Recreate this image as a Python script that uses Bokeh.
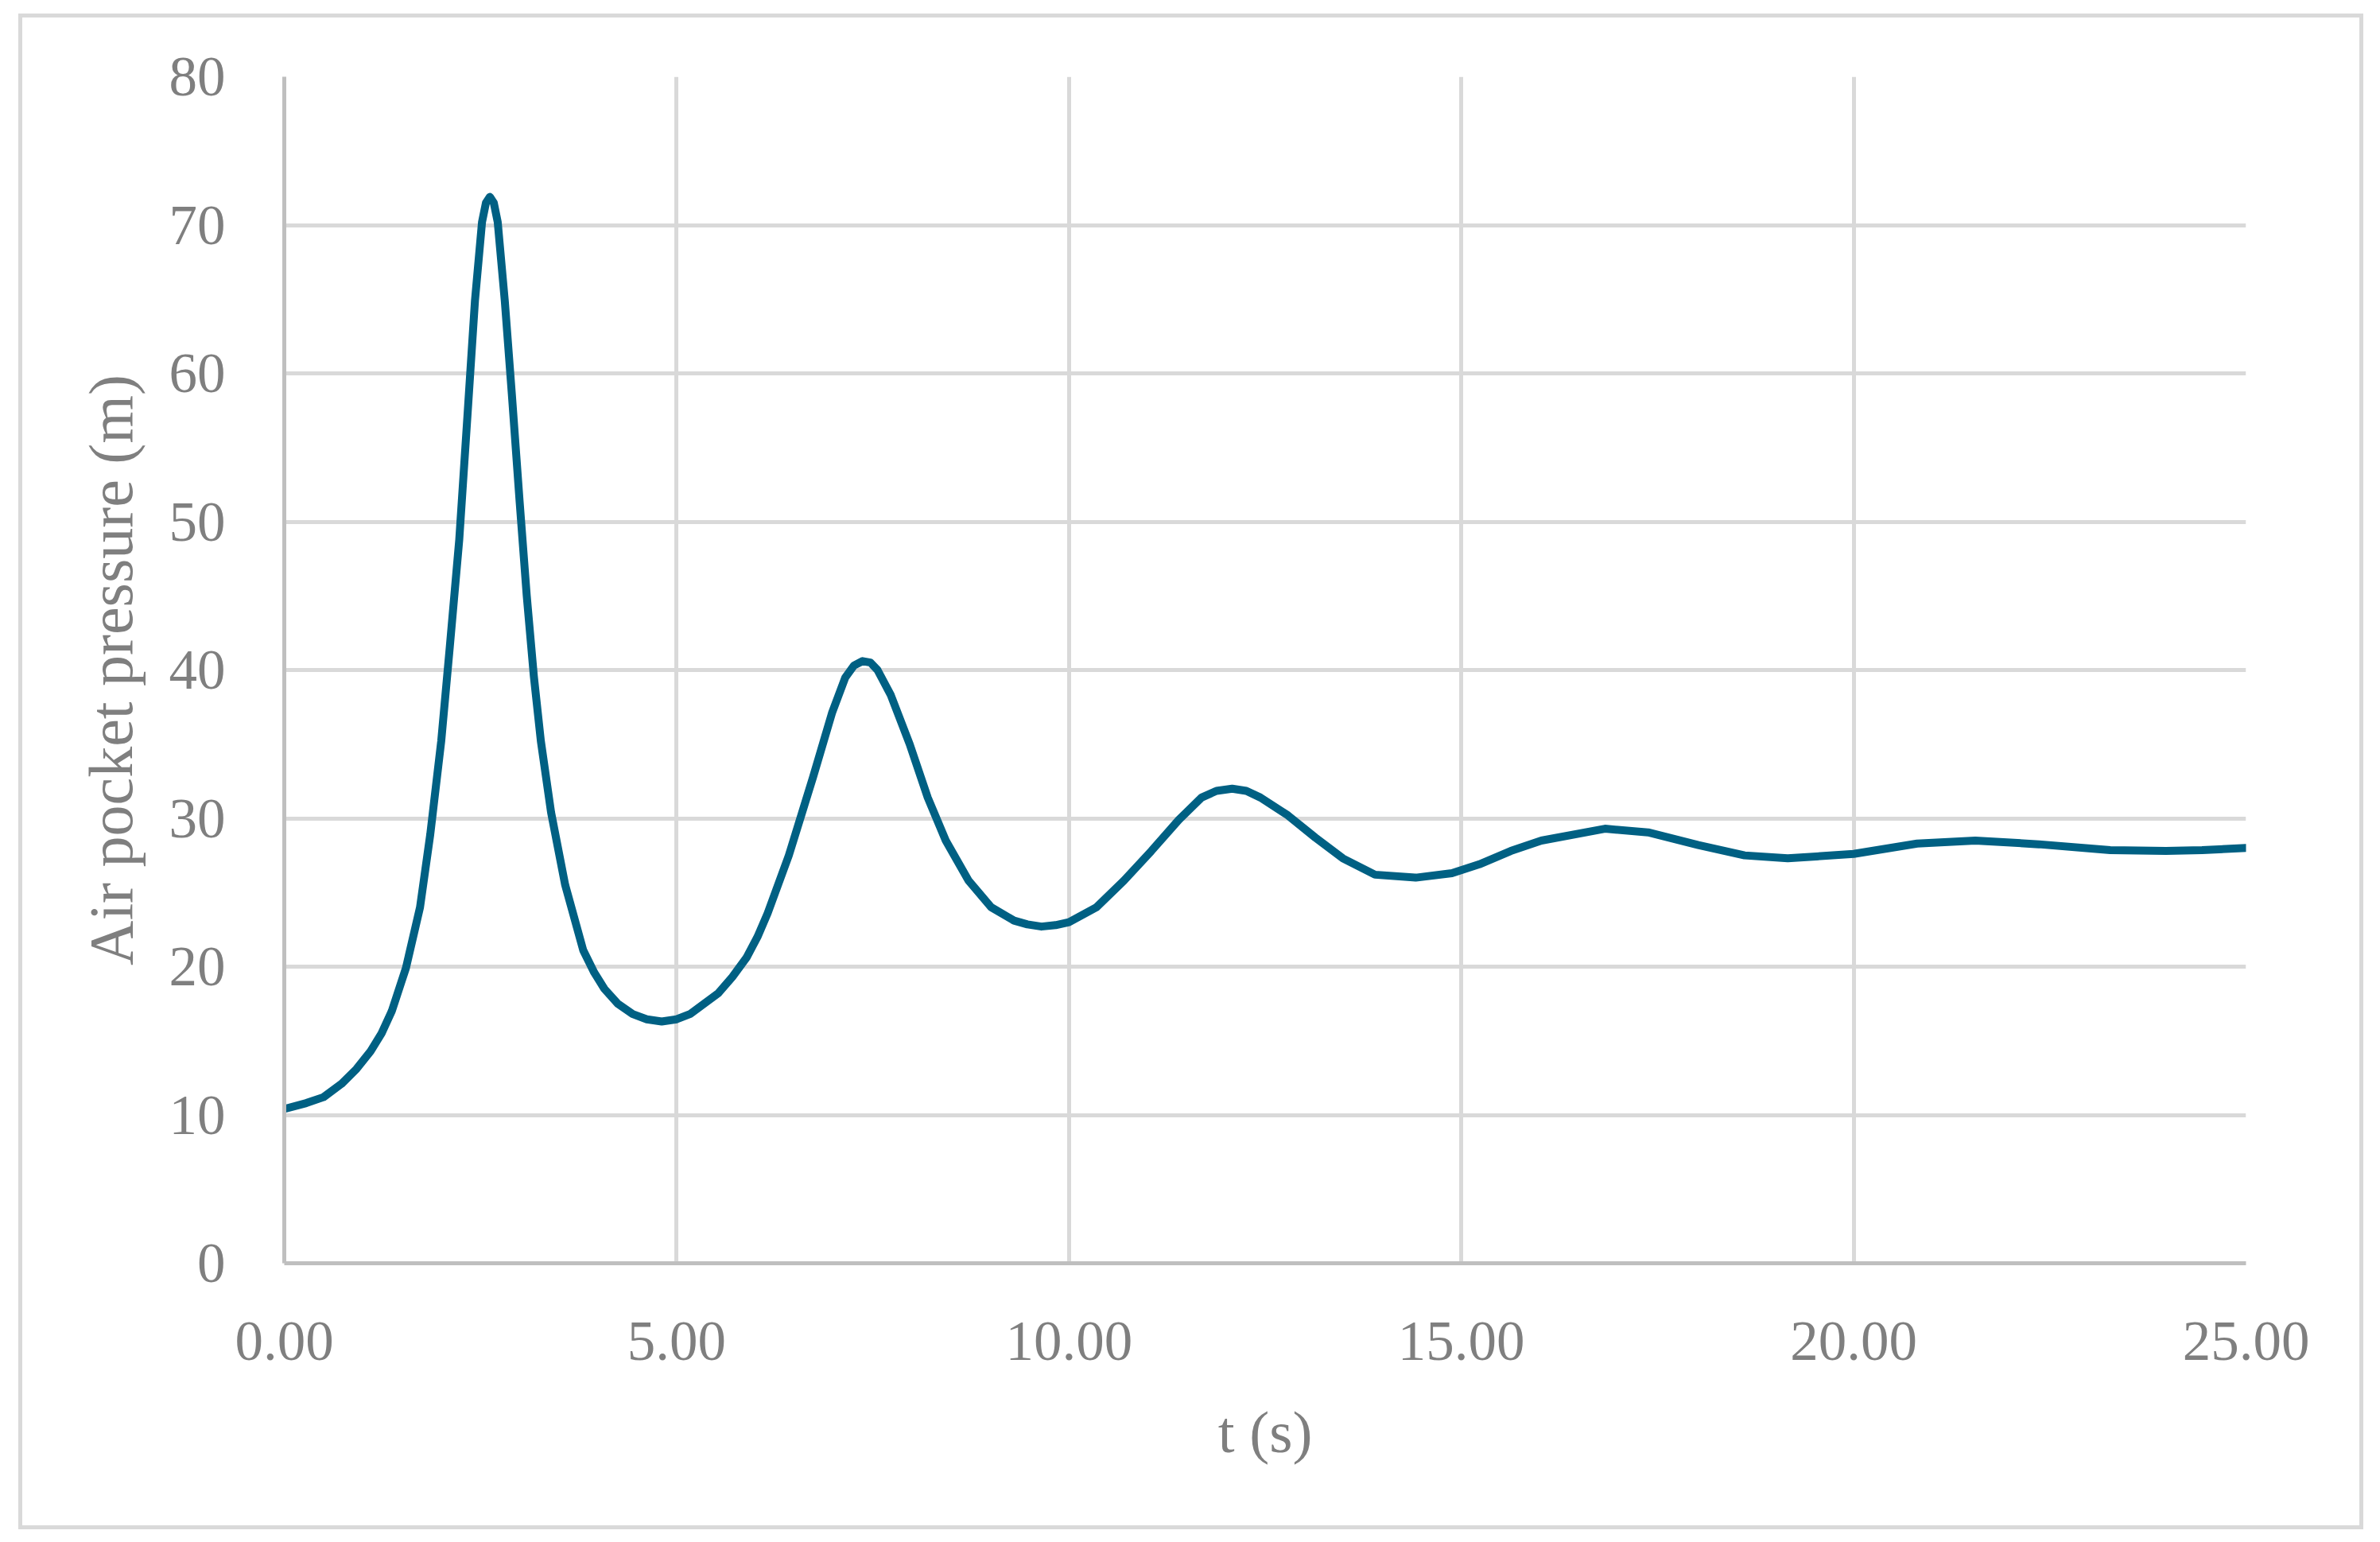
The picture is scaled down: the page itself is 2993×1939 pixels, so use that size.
from bokeh.plotting import figure
from bokeh.models import Range1d, FixedTicker, PrintfTickFormatter
from bokeh.embed import file_html
from bokeh.resources import INLINE

# ---- data ----
t_s = [0.00, 0.28, 0.50, 0.73, 0.92, 1.10, 1.24, 1.37, 1.55, 1.73, 1.86, 2.00, 2.11, 2.23, 2.34,
       2.43, 2.52, 2.57, 2.62, 2.67, 2.72, 2.81, 2.90, 3.00, 3.09, 3.18, 3.27, 3.40, 3.58,
       3.81, 3.95, 4.08, 4.25, 4.44, 4.62, 4.81, 5.00, 5.17, 5.53, 5.71, 5.89, 6.03, 6.16,
       6.43, 6.74, 6.98, 7.15, 7.26, 7.37, 7.47, 7.56, 7.73, 7.97, 8.20, 8.43, 8.72, 9.01,
       9.30, 9.47, 9.65, 9.83, 10.00, 10.35, 10.70, 11.05, 11.40, 11.69, 11.88, 12.08, 12.26,
       12.44, 12.79, 13.14, 13.49, 13.90, 14.42, 14.88, 15.23, 15.63, 16.02, 16.83, 17.38,
       18.02, 18.61, 19.16, 20.00, 20.81, 21.55, 22.36, 23.27, 23.98, 24.44, 25.00]
pressure_m = [10.4, 10.8, 11.2, 12.1, 13.1, 14.3, 15.5, 17.0, 19.9, 24.0, 28.9, 35.2, 41.6, 48.8,
              57.6, 64.9, 70.2, 71.5, 71.9, 71.5, 70.2, 64.9, 58.6, 51.3, 45.0, 39.6, 35.2,
              30.4, 25.5, 21.1, 19.6, 18.5, 17.5, 16.8, 16.45, 16.3, 16.45, 16.8, 18.2, 19.3,
              20.6, 22.0, 23.6, 27.5, 32.8, 37.1, 39.5, 40.3, 40.6, 40.5, 40.0, 38.3, 35.0,
              31.4, 28.5, 25.8, 24.0, 23.1, 22.85, 22.7, 22.8, 23.0, 24.0, 25.8, 27.8, 29.9,
              31.4, 31.85, 32.0, 31.85, 31.4, 30.2, 28.7, 27.3, 26.2, 26.0, 26.3, 26.9, 27.8,
              28.5, 29.3, 29.05, 28.2, 27.5, 27.3, 27.6, 28.3, 28.5, 28.25, 27.85, 27.8,
              27.85, 28.0]
x_ticks = [0, 5, 10, 15, 20, 25]
y_ticks = [0, 10, 20, 30, 40, 50, 60, 70, 80]
x_title = "t (s)"
y_title = "Air pocket pressure (m)"

FONT = "Liberation Serif"
TEXT = "#7f7f7f"

p = figure(width=2949, height=1906, output_backend="svg", toolbar_location=None,
           x_range=Range1d(0, 25), y_range=Range1d(0, 80),
           min_border_left=329, min_border_right=153, min_border_top=74, min_border_bottom=340)
# outer chart-area border
p.styles = {"border": "5px solid #d9d9d9", "margin-left": "23px", "margin-top": "17px"}
p.outline_line_color = None
p.background_fill_color = "white"
p.border_fill_color = "white"

p.line(t_s, pressure_m, line_color="#006083", line_width=10, line_join="round", line_cap="round")

for ax in (p.xaxis[0], p.yaxis[0]):
    ax.axis_line_color = "#bfbfbf"
    ax.axis_line_width = 5
    ax.major_tick_line_color = None
    ax.minor_tick_line_color = None
    ax.major_tick_out = 0
    ax.major_tick_in = 0
    ax.minor_tick_out = 0
    ax.minor_tick_in = 0
    ax.major_label_text_font = FONT
    ax.major_label_text_font_size = "71px"
    ax.major_label_text_color = TEXT
    ax.axis_label_text_font = FONT
    ax.axis_label_text_font_style = "normal"
    ax.axis_label_text_color = TEXT

p.xaxis[0].axis_label_text_font_size = "75px"
p.yaxis[0].axis_label_text_font_size = "78px"
p.xaxis[0].ticker = FixedTicker(ticks=x_ticks)
p.yaxis[0].ticker = FixedTicker(ticks=y_ticks)
p.xaxis[0].formatter = PrintfTickFormatter(format="%.2f")
p.yaxis[0].formatter = PrintfTickFormatter(format="%d")
p.xaxis[0].axis_label = x_title
p.yaxis[0].axis_label = y_title
p.xaxis[0].major_label_standoff = 74
p.yaxis[0].major_label_standoff = 74
p.xaxis[0].axis_label_standoff = 46
p.yaxis[0].axis_label_standoff = 27

p.xgrid[0].ticker = FixedTicker(ticks=x_ticks)
p.ygrid[0].ticker = FixedTicker(ticks=y_ticks)
for g in (p.xgrid[0], p.ygrid[0]):
    g.grid_line_color = "#d9d9d9"
    g.grid_line_width = 5

open("out.html", "w").write(file_html(p, INLINE))
